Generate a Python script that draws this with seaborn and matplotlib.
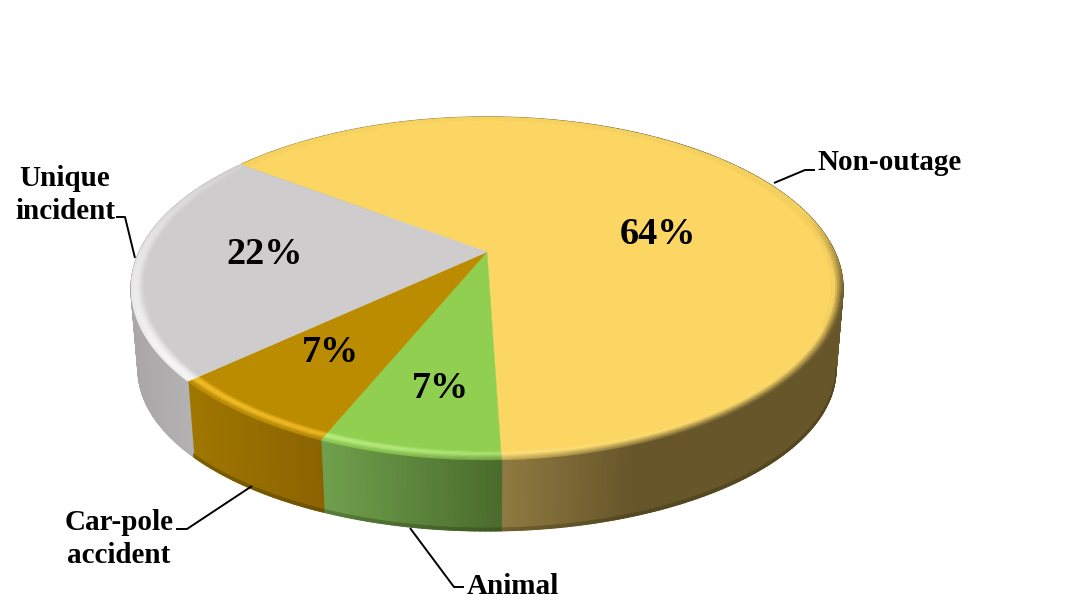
import numpy as np
import matplotlib
matplotlib.use("Agg")
import matplotlib.pyplot as plt
import matplotlib.colors as mcolors
from matplotlib.collections import PolyCollection
import seaborn as sns

# pie data, clockwise from the back left edge
categories = ["Non-outage", "Animal", "Car-pole\naccident", "Unique\nincident"]
shares = [64.2, 6.8, 6.9, 22.1]
share_labels = ["64%", "7%", "7%", "22%"]

top_colors = ["#FBD662", "#90CF50", "#BB8C00", "#CECCCD"]
rim_colors = ["#FFE68C", "#BDF283", "#F2B91C", "#F6F5F5"]
side_left = ["#8F7A40", "#6FA04D", "#A07700", "#A9A7A8"]
side_right = ["#66562A", "#4A6B2B", "#8B6300", "#BDBBBC"]

START_ANGLE = 143.0
CX, CY = 487.0, 252.0
PERSP = 0.2128
SCALE_X, SCALE_Y = 347.8, -110.1
BOTTOM_SX, BOTTOM_SY, BOTTOM_DY = 0.98, 0.94, 98.5
RIM_INNER = 0.965


def project(r, deg):
    # circle in the pie plane -> picture pixels, with a bit of perspective
    t = np.radians(deg)
    x, y = r * np.cos(t), r * np.sin(t)
    d = 1 + PERSP * y
    return CX + SCALE_X * x / d, (CY + SCALE_Y * y) / d


def project_bottom(deg):
    x, y = project(1.0, deg)
    return CX + (x - CX) * BOTTOM_SX, y * BOTTOM_SY + BOTTOM_DY


def blend(a, b, w):
    return np.array(a) * (1 - w) + np.array(b) * w


def main():
    sns.set_theme(style="white")
    plt.rcParams["font.family"] = ["Liberation Serif", "DejaVu Serif"]

    fig = plt.figure(figsize=(10.66, 6.01), dpi=100)
    ax = fig.add_axes([0, 0, 1, 1])
    ax.set_xlim(0, 1066)
    ax.set_ylim(601, 0)
    ax.axis("off")

    sweep = np.array(shares) / sum(shares) * 360.0
    ends = START_ANGLE - np.cumsum(sweep)
    starts = ends + sweep

    side_quads, side_cols = [], []
    band_quads, band_cols = [], []
    rim_quads, rim_cols = [], []

    for i in range(len(shares)):
        ts = np.linspace(starts[i], ends[i], max(int(sweep[i] * 1.5), 12))
        top = mcolors.to_rgb(top_colors[i])
        rim = mcolors.to_rgb(rim_colors[i])
        # side gets its gradient left to right in the picture
        xs = project(1.0, ts)[0]
        lo, hi = xs.min(), xs.max()
        if i == 0:
            lo = project(1.0, ends[i])[0]
            hi = lo + 130
        pal_l, pal_r = mcolors.to_rgb(side_left[i]), mcolors.to_rgb(side_right[i])

        for a, b in zip(ts[:-1], ts[1:]):
            tm = (a + b) / 2
            xm = project(1.0, tm)[0]
            w = np.clip((xm - lo) / (hi - lo), 0, 1)
            col = blend(pal_l, pal_r, w)
            tops = project(1.0, np.array([a, b]))
            bots = project_bottom(np.array([a, b]))
            side_quads.append([(tops[0][0], tops[1][0]), (tops[0][1], tops[1][1]),
                               (bots[0][1], bots[1][1]), (bots[0][0], bots[1][0])])
            side_cols.append(col)
            # widest point of the ellipse sits at sin = -PERSP, only the foot in front of it shows
            if i != 3 and np.sin(np.radians(tm)) < -PERSP:
                p0 = [tops[k] + (bots[k] - tops[k]) * 0.96 for k in (0, 1)]
                band_quads.append([(p0[0][0], p0[1][0]), (p0[0][1], p0[1][1]),
                                   (bots[0][1], bots[1][1]), (bots[0][0], bots[1][0])])
                band_cols.append(blend(col, (0.15, 0.15, 0.05), 0.3))

            # bevel on the rim of the top face
            lit = np.clip(np.cos(np.radians(tm - 225)), 0, 1) ** 2
            front = np.clip((0.25 - np.sin(np.radians(tm))) / 0.5, 0, 1)
            if i == 3:
                front = 0.0
            vs = np.linspace(0, 1, 8)
            for v0, v1 in zip(vs[:-1], vs[1:]):
                vm = (v0 + v1) / 2
                bump = np.sin(np.pi * min(vm / 0.8, 1.0)) * lit
                if i == 3:
                    bump = np.sin(np.pi * min(vm / 1.4, 1.0)) * lit ** 0.5
                c = blend(top, rim, bump)
                edge = np.clip((vm - 0.35) / 0.65, 0, 1) * (1 - lit) * front
                c = blend(c, col, edge)
                r0 = RIM_INNER + (1 - RIM_INNER) * v0
                r1 = RIM_INNER + (1 - RIM_INNER) * v1
                q0 = project(r0, np.array([a, b]))
                q1 = project(r1, np.array([a, b]))
                rim_quads.append([(q0[0][0], q0[1][0]), (q0[0][1], q0[1][1]),
                                  (q1[0][1], q1[1][1]), (q1[0][0], q1[1][0])])
                rim_cols.append(c)

    ax.add_collection(PolyCollection(side_quads, facecolors=side_cols, edgecolors=side_cols,
                                     linewidths=1.0, zorder=1))
    ax.add_collection(PolyCollection(band_quads, facecolors=band_cols, edgecolors=band_cols,
                                     linewidths=0.6, zorder=1.5))

    # flat top wedges from the hub out
    for i in range(len(shares)):
        ts = np.linspace(starts[i], ends[i], 200)
        ex, ey = project(RIM_INNER + 0.002, ts)
        ax.fill(np.r_[CX, ex], np.r_[CY, ey], color=top_colors[i], lw=0.3, zorder=2)

    ax.add_collection(PolyCollection(rim_quads, facecolors=rim_cols, edgecolors=rim_cols,
                                     linewidths=0.3, zorder=3))

    # percentages
    pct_pos = [(658, 234), (441, 388), (331, 353), (265, 254)]
    for txt, (x, y) in zip(share_labels, pct_pos):
        ax.text(x, y, txt, fontsize=27.5, fontweight="bold", color="black",
                ha="center", va="center", zorder=5)

    # category labels
    label_style = dict(fontsize=21, fontweight="bold", color="black", zorder=5, linespacing=1.33)
    ax.text(817, 163, categories[0], ha="left", va="center", **label_style)
    ax.text(467, 587, categories[1], ha="left", va="center", **label_style)
    ax.text(119, 539, categories[2], ha="center", va="center", **label_style)
    ax.text(65, 195, categories[3], ha="center", va="center", **label_style)

    # leader lines
    leaders = [
        ([774, 805, 815], [183, 170, 170]),
        ([410, 454, 464], [528, 587, 587]),
        ([252, 187, 176], [486, 529, 529]),
        ([116, 125, 135], [217, 217, 258]),
    ]
    for lx, ly in leaders:
        ax.plot(lx, ly, color="black", lw=1.4, zorder=4, solid_capstyle="butt")

    fig.savefig("out.png", dpi=100, facecolor="white")
    plt.close(fig)


if __name__ == "__main__":
    main()
